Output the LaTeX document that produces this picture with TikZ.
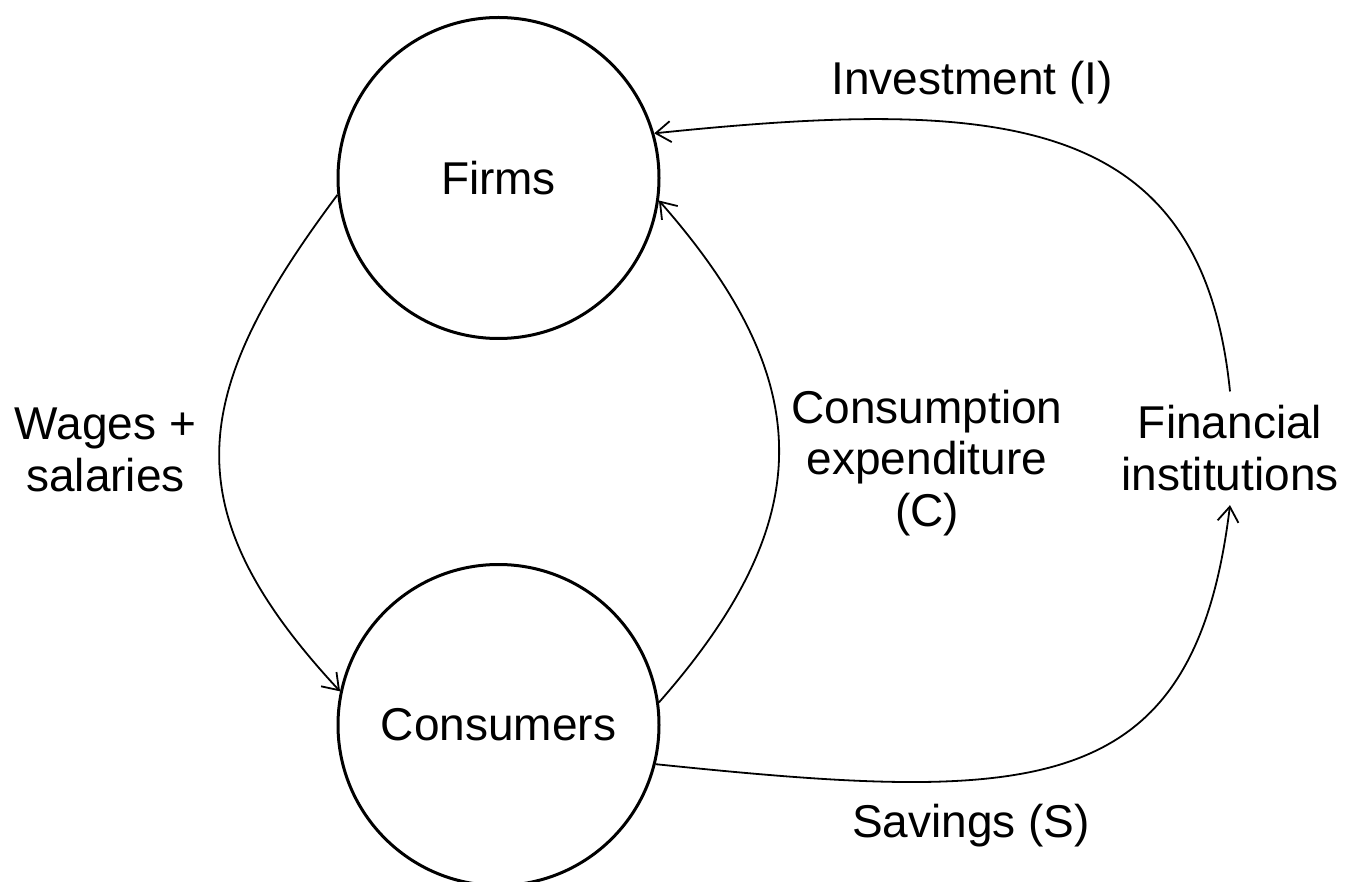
\documentclass[tikz,border=0pt]{standalone}
\usepackage{fontspec}
\setmainfont{Liberation Sans}
\usetikzlibrary{arrows.meta}

\begin{document}
\begin{tikzpicture}[x=1pt, y=-1pt,
  every node/.style={font=\fontsize{46}{51.5}\selectfont},
  sector/.style={circle, draw, line width=3pt, minimum size=321pt, inner sep=0pt},
  label/.style={align=center, anchor=base, inner sep=0pt},
  flow/.style={line width=1.8pt, -{Straight Barb[length=15pt, width=21pt, line width=1.8pt]}}
]
\useasboundingbox (0,0) rectangle (1345,882);

% the two sectors
\node[sector] (firms) at (498.5,178) {Firms};
\node[sector] (cons)  at (498.5,725) {Consumers};

% financial institutions (base = baseline of the last line)
\node[align=center, anchor=base, inner xsep=0pt, inner ysep=14pt] (fin) at (1230,490.5) {Financial\\institutions};

% flow labels (base = baseline of the last line)
\node[label] (lwages) at (105.5,491.5) {Wages +\\salaries};
\node[label] (lcons)  at (927,526)     {Consumption\\expenditure\\(C)};
\node[label] (linv)   at (972,95)      {Investment (I)};
\node[label] (lsav)   at (971,837)     {Savings (S)};

% flows
\draw[flow] (firms.186.75) .. controls +(-149,199) and +(-169,-182) .. (cons.168.5);
\draw[flow] (cons.8.2) .. controls +(160,-182) and +(160,182) .. (firms.-8.9);
\draw[flow] (cons.-14.7) .. controls +(378,39) and +(-36,297) .. (fin.south);
\draw[flow] (fin.north) .. controls +(-28,-279) and +(348,-36) .. (firms.16);
\end{tikzpicture}
\end{document}
